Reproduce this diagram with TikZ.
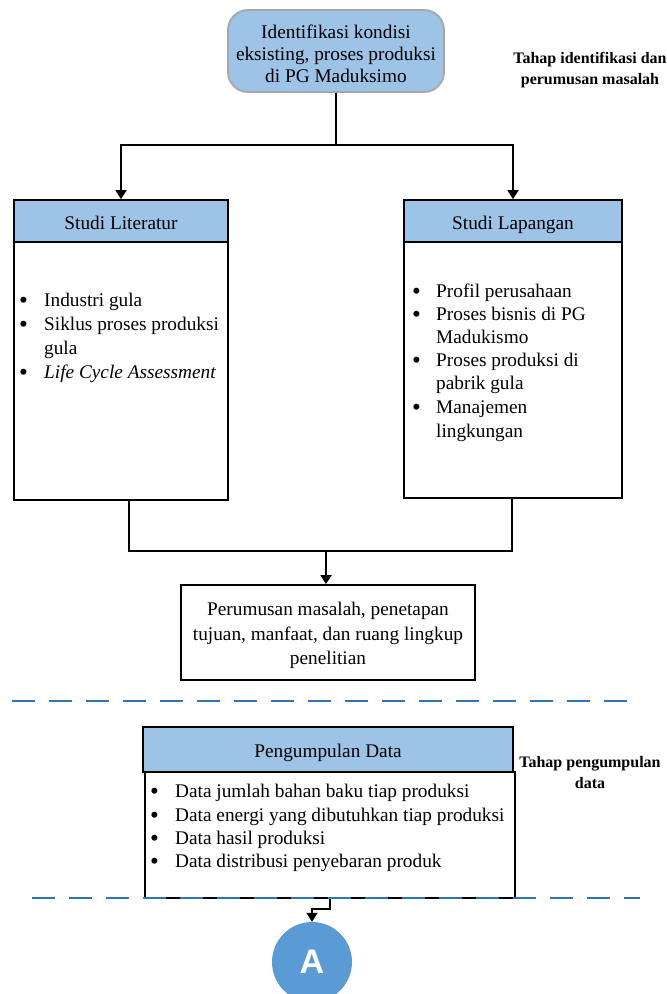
\documentclass[tikz,border=0pt]{standalone}
\usepackage{fontspec}
\setmainfont{Liberation Serif}
\newfontfamily\headsans{Liberation Sans}
\usetikzlibrary{arrows.meta}
\definecolor{headblue}{HTML}{9DC3E6}
\definecolor{circblue}{HTML}{5B9BD5}
\definecolor{dashblue}{HTML}{2E75B6}
\definecolor{softgray}{HTML}{A6A6A6}
\newcommand{\bul}[1]{\makebox[#1][l]{\raisebox{-2pt}{\scalebox{1.3}{\textbullet}}}}
\tikzset{
  txt/.style={font=\fontsize{19.3}{23.5}\selectfont},
  headbox/.style={draw=black, line width=1.8pt, fill=headblue, txt, inner sep=0pt,
                  text height=20pt, text depth=3.5pt},
  bodybox/.style={draw=black, line width=1.8pt, fill=white, inner sep=0pt},
  line/.style={line width=1.8pt},
  arr/.style={line width=1.8pt, -{Triangle[width=11pt,length=9pt]}},
  stagelabel/.style={font=\bfseries\fontsize{16}{21}\selectfont, align=center},
  itemline/.style={txt, anchor=base west, inner sep=0pt},
  phase/.style={draw=dashblue, line width=2.8pt, dash pattern=on 23pt off 14pt}
}
\begin{document}
\begin{tikzpicture}[x=1pt, y=-1pt]
\useasboundingbox (0,0) rectangle (667,994);

% start node
\node[draw=softgray, line width=1.8pt, fill=headblue, rounded corners=20pt,
      minimum width=216pt, minimum height=82pt, align=center, txt,
      font=\fontsize{19.3}{22}\selectfont] (top) at (336,51) {};
\node[txt, align=center, font=\fontsize{19.3}{22}\selectfont] (toptext) at (336,53.5)
  {Identifikasi kondisi\\eksisting, proses produksi\\di PG Maduksimo};
\node[stagelabel] (stage1) at (590,70) {Tahap identifikasi dan\\perumusan masalah};

% literature study
\node[bodybox, minimum width=214pt, minimum height=258pt] (litB) at (121,371) {};
\node[headbox, minimum width=214pt, minimum height=42pt] (litH) at (121,221) {Studi Literatur};
\node[itemline] (l1) at (19,306) {\bul{25pt}Industri gula};
\node[itemline] (l2) at (19,330) {\bul{25pt}Siklus proses produksi};
\node[itemline] (l3) at (44,354) {gula};
\node[itemline] (l4) at (19,378) {\bul{25pt}\textit{Life Cycle Assessment}};

% field study
\node[bodybox, minimum width=218pt, minimum height=256pt] (lapB) at (513,370) {};
\node[headbox, minimum width=218pt, minimum height=42pt] (lapH) at (513,221) {Studi Lapangan};
\node[itemline] (r1) at (412,297) {\bul{24pt}Profil perusahaan};
\node[itemline] (r2) at (412,320) {\bul{24pt}Proses bisnis di PG};
\node[itemline] (r3) at (436,343) {Madukismo};
\node[itemline] (r4) at (412,366) {\bul{24pt}Proses produksi di};
\node[itemline] (r5) at (436,389) {pabrik gula};
\node[itemline] (r6) at (412,413) {\bul{24pt}Manajemen};
\node[itemline] (r7) at (436,437) {lingkungan};

% problem formulation
\node[bodybox, minimum width=294pt, minimum height=95pt] (perum) at (328,632.5) {};
\node[txt, align=center, font=\fontsize{19.3}{24.5}\selectfont] (perumtext) at (328,635.5)
  {Perumusan masalah, penetapan\\tujuan, manfaat, dan ruang lingkup\\penelitian};

% data collection
\node[bodybox, minimum width=370pt, minimum height=126pt] (pengB) at (330,835) {};
\node[headbox, minimum width=370pt, minimum height=45pt] (pengH) at (328,749.5) {Pengumpulan Data};
\node[itemline] (p1) at (150,797) {\bul{25pt}Data jumlah bahan baku tiap produksi};
\node[itemline] (p2) at (150,821) {\bul{25pt}Data energi yang dibutuhkan tiap produksi};
\node[itemline] (p3) at (150,844) {\bul{25pt}Data hasil produksi};
\node[itemline] (p4) at (150,867) {\bul{25pt}Data distribusi penyebaran produk};
\node[stagelabel] (stage2) at (590,773) {Tahap pengumpulan\\data};

% off-page connector
\node[circle, fill=circblue, minimum size=80pt, inner sep=0pt, text=white,
      font=\headsans\bfseries\fontsize{34}{34}\selectfont] (circ) at (312,962) {A};

% connectors
\coordinate (split) at (336,145);
\draw[line] (top.south) -- (split);
\draw[arr] (split) -| (litH.north);
\draw[arr] (split) -| (lapH.north);
\coordinate (mergeL) at ([xshift=8pt]litB.south);
\coordinate (merge) at (326,551);
\draw[line] (mergeL) |- (merge) -| ([xshift=-1pt]lapB.south);
\draw[arr] (merge) -- (merge |- perum.north);
\draw[arr] (pengB.south) -- ++(0,10) -| (circ.north);

% phase separators
\coordinate (d1a) at (12,701);  \coordinate (d1b) at (635,701);
\coordinate (d2a) at (32,898);  \coordinate (d2b) at (640,898);
\draw[phase] (d1a) -- (d1b);
\draw[phase] (d2a) -- (d2b);
\end{tikzpicture}
\end{document}
